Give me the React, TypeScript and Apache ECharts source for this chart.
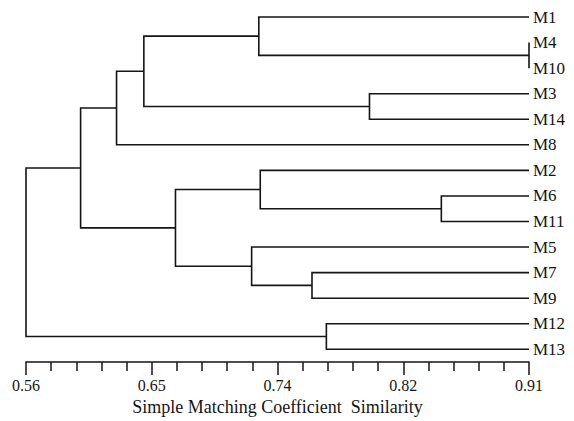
import React, { useEffect, useRef } from "react";
import * as echarts from "echarts";

// Leaves, top to bottom
const LEAVES = ["M1", "M4", "M10", "M3", "M14", "M8", "M2", "M6", "M11", "M5", "M7", "M9", "M12", "M13"];
// Merge steps: node ids 0..13 are leaves, 14+ are clusters created in this order
const MERGE_A = [1, 0, 3, 15, 17, 7, 6, 10, 9, 20, 18, 12, 24];
const MERGE_B = [2, 14, 4, 16, 5, 8, 19, 11, 21, 22, 23, 13, 25];
const MERGE_SIM = [0.91, 0.722, 0.799, 0.642, 0.623, 0.849, 0.723, 0.759, 0.717, 0.664, 0.598, 0.769, 0.56];
const LEAF_SIM = 0.91;

// Axis
const AXIS_MIN = 0.56;
const AXIS_MAX = 0.91;
const TICK_LABELS = ["0.56", "0.65", "0.74", "0.82", "0.91"];
const AXIS_TITLE = "Simple Matching Coefficient  Similarity";

const FONT = "Liberation Serif";
const INK = "#151515";

function buildSegments() {
  const xs: number[] = LEAVES.map(() => LEAF_SIM);
  const ys: number[] = LEAVES.map((_, i) => i);
  const segs: number[][] = [];
  for (let k = 0; k < MERGE_SIM.length; k++) {
    const a = MERGE_A[k];
    const b = MERGE_B[k];
    const s = MERGE_SIM[k];
    segs.push([s - AXIS_MIN, ys[a], ys[b], xs[a] - AXIS_MIN, xs[b] - AXIS_MIN]);
    xs.push(s);
    ys.push((ys[a] + ys[b]) / 2);
  }
  return segs;
}

export default function App() {
  const ref = useRef<HTMLDivElement>(null);
  useEffect(() => {
    if (!ref.current) return;
    const chart = echarts.init(ref.current, undefined, { renderer: "svg" });
    const range = AXIS_MAX - AXIS_MIN;
    const step = range / (TICK_LABELS.length - 1);
    chart.setOption({
      animation: false,
      backgroundColor: "#ffffff",
      textStyle: { fontFamily: FONT },
      grid: { left: 26, right: 45, top: 17, bottom: 56 },
      xAxis: {
        type: "value",
        min: 0,
        max: range,
        interval: step,
        name: AXIS_TITLE,
        nameLocation: "middle",
        nameGap: 35,
        nameTextStyle: { fontFamily: FONT, fontSize: 18, color: INK },
        axisLine: { show: true, onZero: false, lineStyle: { color: INK, width: 1.5 } },
        axisTick: { show: true, length: 13, lineStyle: { color: INK, width: 1.5 } },
        minorTick: { show: true, splitNumber: 5, length: 9, lineStyle: { color: INK, width: 1.5 } },
        splitLine: { show: false },
        minorSplitLine: { show: false },
        axisLabel: {
          margin: 15,
          fontFamily: FONT,
          fontSize: 16,
          color: INK,
          formatter: (v: number) => TICK_LABELS[Math.round(v / step)] ?? "",
        },
      },
      yAxis: {
        type: "value",
        position: "right",
        inverse: true,
        min: 0,
        max: 13.5,
        interval: 1,
        axisLine: { show: false },
        axisTick: { show: false },
        splitLine: { show: false },
        axisLabel: {
          margin: 4,
          fontFamily: FONT,
          fontSize: 17,
          color: INK,
          formatter: (v: number) =>
            Number.isInteger(v) && v >= 0 && v < LEAVES.length ? LEAVES[v] : "",
        },
      },
      series: [
        {
          type: "custom",
          clip: false,
          data: buildSegments(),
          encode: { x: [0, 3, 4], y: [1, 2] },
          renderItem: (_params: any, api: any) => {
            const s = api.value(0);
            const ya = api.value(1);
            const yb = api.value(2);
            const xa = api.value(3);
            const xb = api.value(4);
            const p1 = api.coord([xa, ya]);
            const p2 = api.coord([s, ya]);
            const p3 = api.coord([s, yb]);
            const p4 = api.coord([xb, yb]);
            return {
              type: "polyline",
              shape: { points: [p1, p2, p3, p4] },
              style: { stroke: INK, lineWidth: 1.6, fill: "none" },
            };
          },
        },
      ],
    });
    return () => chart.dispose();
  }, []);
  return (
    <div
      ref={ref}
      style={{ position: "fixed", left: 0, top: 0, width: 574, height: 421, background: "#fff" }}
    />
  );
}
